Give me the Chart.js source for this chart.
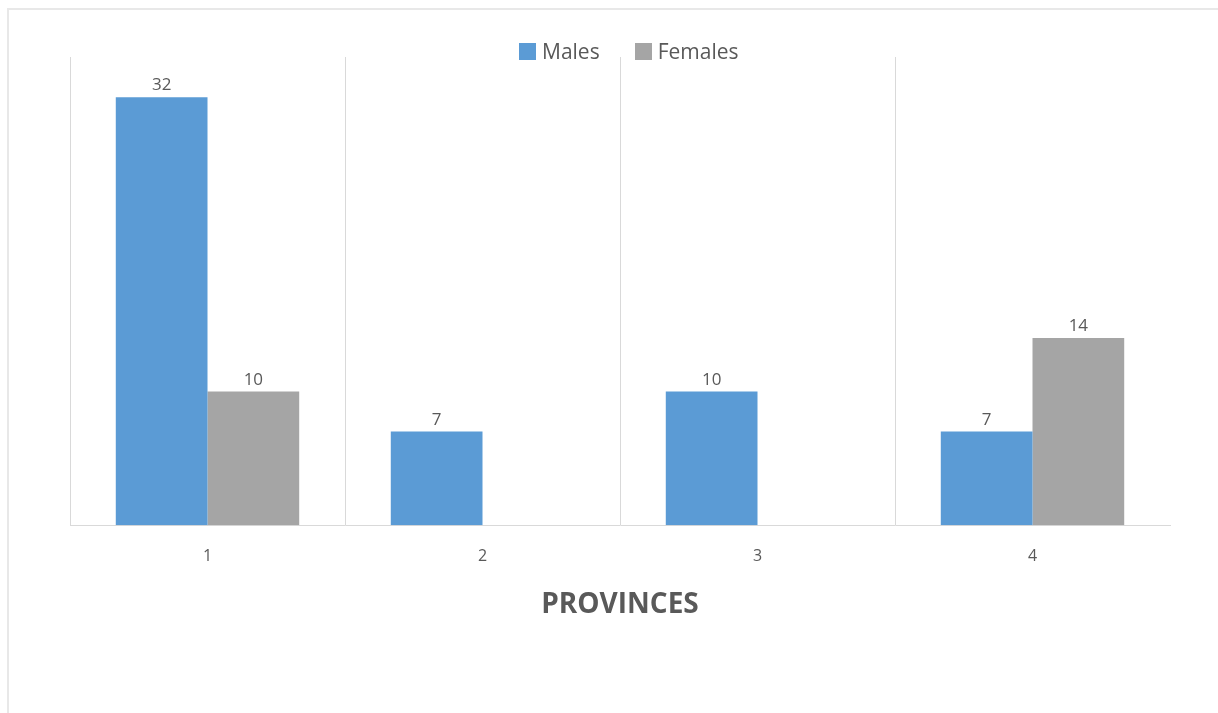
<!DOCTYPE html>
<html>
<head>
<meta charset="utf-8">
<title>Provinces</title>
<script src="https://cdn.jsdelivr.net/npm/chart.js@4.4.1/dist/chart.umd.min.js"></script>
<style>
  html, body { margin: 0; padding: 0; background: #fff; }
  #frame {
    position: absolute; left: 7px; top: 8px; width: 1300px; height: 800px;
    border-left: 2px solid #e8e8e8; border-top: 2px solid #e8e8e8;
  }
  #wrap { position: absolute; left: 0; top: 0; width: 1218px; height: 713px; }
  #legend {
    position: absolute; left: 519px; top: 37px; height: 28px;
    display: flex; align-items: center;
    font-family: "Open Sans"; font-size: 21px; color: #595959;
  }
  #legend .item { display: flex; align-items: center; margin-right: 35px; }
  #legend .box { width: 17px; height: 17px; margin-right: 6px; }
</style>
</head>
<body>
<div id="frame"></div>
<div id="wrap"><canvas id="myChart"></canvas></div>
<div id="legend"></div>
<script>
'use strict'

const provinces = ['1', '2', '3', '4'];
const males = [32, 7, 10, 7];
const females = [10, null, null, 14];

const textColor = '#595959';

// writes the value above each bar
const valueLabels = {
  id: 'valueLabels',
  afterDatasetsDraw(chart) {
    const ctx = chart.ctx;
    ctx.save();
    ctx.font = '17px "Open Sans"';
    ctx.fillStyle = textColor;
    ctx.textAlign = 'center';
    ctx.textBaseline = 'bottom';
    chart.data.datasets.forEach((ds, i) => {
      chart.getDatasetMeta(i).data.forEach((bar, j) => {
        const v = ds.data[j];
        if (v == null) return;
        ctx.fillText(String(v), bar.x, bar.y - 3);
      });
    });
    ctx.restore();
  }
};

// legend built as html from the datasets
const htmlLegend = {
  id: 'htmlLegend',
  afterUpdate(chart) {
    const box = document.getElementById('legend');
    box.innerHTML = '';
    chart.options.plugins.legend.labels.generateLabels(chart).forEach(item => {
      const el = document.createElement('div');
      el.className = 'item';
      const sw = document.createElement('span');
      sw.className = 'box';
      sw.style.background = item.fillStyle;
      const txt = document.createElement('span');
      txt.textContent = item.text;
      el.appendChild(sw);
      el.appendChild(txt);
      box.appendChild(el);
    });
  }
};

const DocumentReady = () => {
  const dashSection = document.getElementById('myChart');

  new Chart(dashSection, {
    type: 'bar',
    data: {
      labels: provinces,
      datasets: [
        { label: 'Males', data: males, backgroundColor: '#5B9BD5' },
        { label: 'Females', data: females, backgroundColor: '#A5A5A5' }
      ]
    },
    options: {
      responsive: true,
      maintainAspectRatio: false,
      animation: false,
      categoryPercentage: 0.667,
      barPercentage: 1.0,
      layout: { padding: { left: 70, right: 48, top: 57, bottom: 91 } },
      plugins: {
        legend: { display: false },
        tooltip: { enabled: false }
      },
      scales: {
        x: {
          grid: {
            offset: true,
            drawTicks: false,
            color: ctx => ctx.type === 'tick' ? '#d9d9d9' : 'rgba(0,0,0,0)'
          },
          border: { color: '#d9d9d9', width: 1 },
          ticks: {
            color: textColor,
            padding: 22,
            font: { family: 'Open Sans', size: 16 }
          },
          title: {
            display: true,
            text: 'PROVINCES',
            color: textColor,
            font: { family: 'Open Sans', size: 28, weight: 'bold' },
            padding: { top: 0, bottom: 0 }
          }
        },
        y: {
          display: false,
          min: 0,
          max: 35
        }
      }
    },
    plugins: [valueLabels, htmlLegend]
  });
};

document.addEventListener('DOMContentLoaded', DocumentReady);
</script>
</body>
</html>
